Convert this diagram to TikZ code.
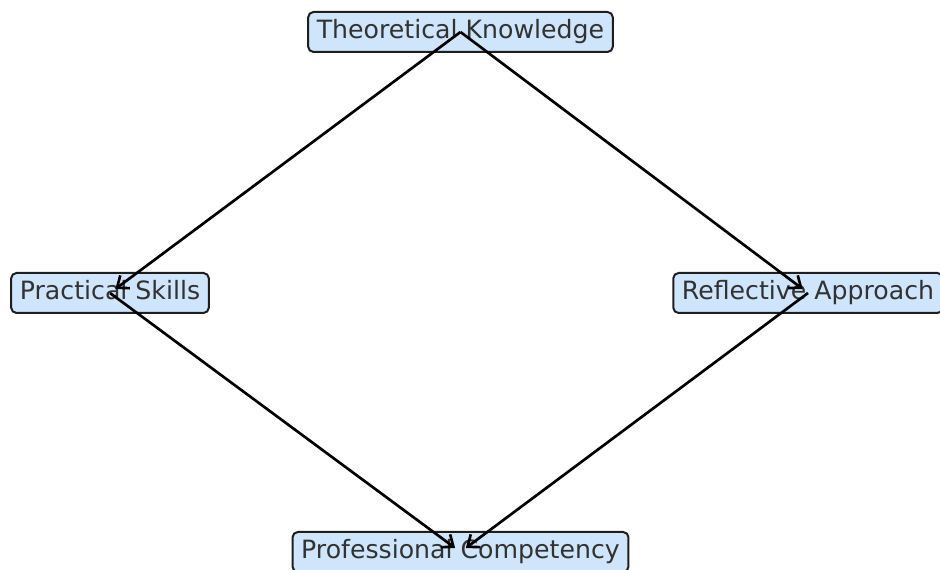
\documentclass[tikz,border=0pt]{standalone}
\usepackage{fontspec}
\setmainfont{DejaVu Sans}
\usetikzlibrary{arrows.meta}
\definecolor{boxfill}{RGB}{207,229,252}
\definecolor{boxtext}{RGB}{50,50,50}
\tikzset{
  stagebox/.style={draw={rgb, 255:red, 30; green, 30; blue, 30}, line width=1.5pt, fill=boxfill, rounded corners=4pt,
    text=boxtext, font=\fontsize{18.9}{22}\selectfont, inner xsep=6.5pt, inner ysep=6.25pt,
    text height=13.5pt, text depth=4pt},
  flow/.style={line width=2pt, -{Straight Barb[length=7.5pt,width=12pt,line width=2pt]}, shorten >=5pt}
}
\begin{document}
\begin{tikzpicture}[x=0.75pt,y=0.75pt,yscale=-1,xscale=1]
\useasboundingbox (0,0) rectangle (940,570);

% Text Node
\node [stagebox] (theory) at (460.5,32) {Theoretical Knowledge};
% Text Node
\node [stagebox] (practice) at (110,293) {Practical Skills};
% Text Node
\node [stagebox] (reflect) at (808,293) {Reflective Approach};
% Text Node
\node [stagebox] (compet) at (460.5,552) {Professional Competency};

%Straight Lines
\draw [flow] (theory.center) -- (practice.center);
\draw [flow] (theory.center) -- (reflect.center);
%Straight Lines
\draw [flow] (practice.center) -- (compet.center);
\draw [flow] (reflect.center) -- (compet.center);

\end{tikzpicture}
\end{document}
